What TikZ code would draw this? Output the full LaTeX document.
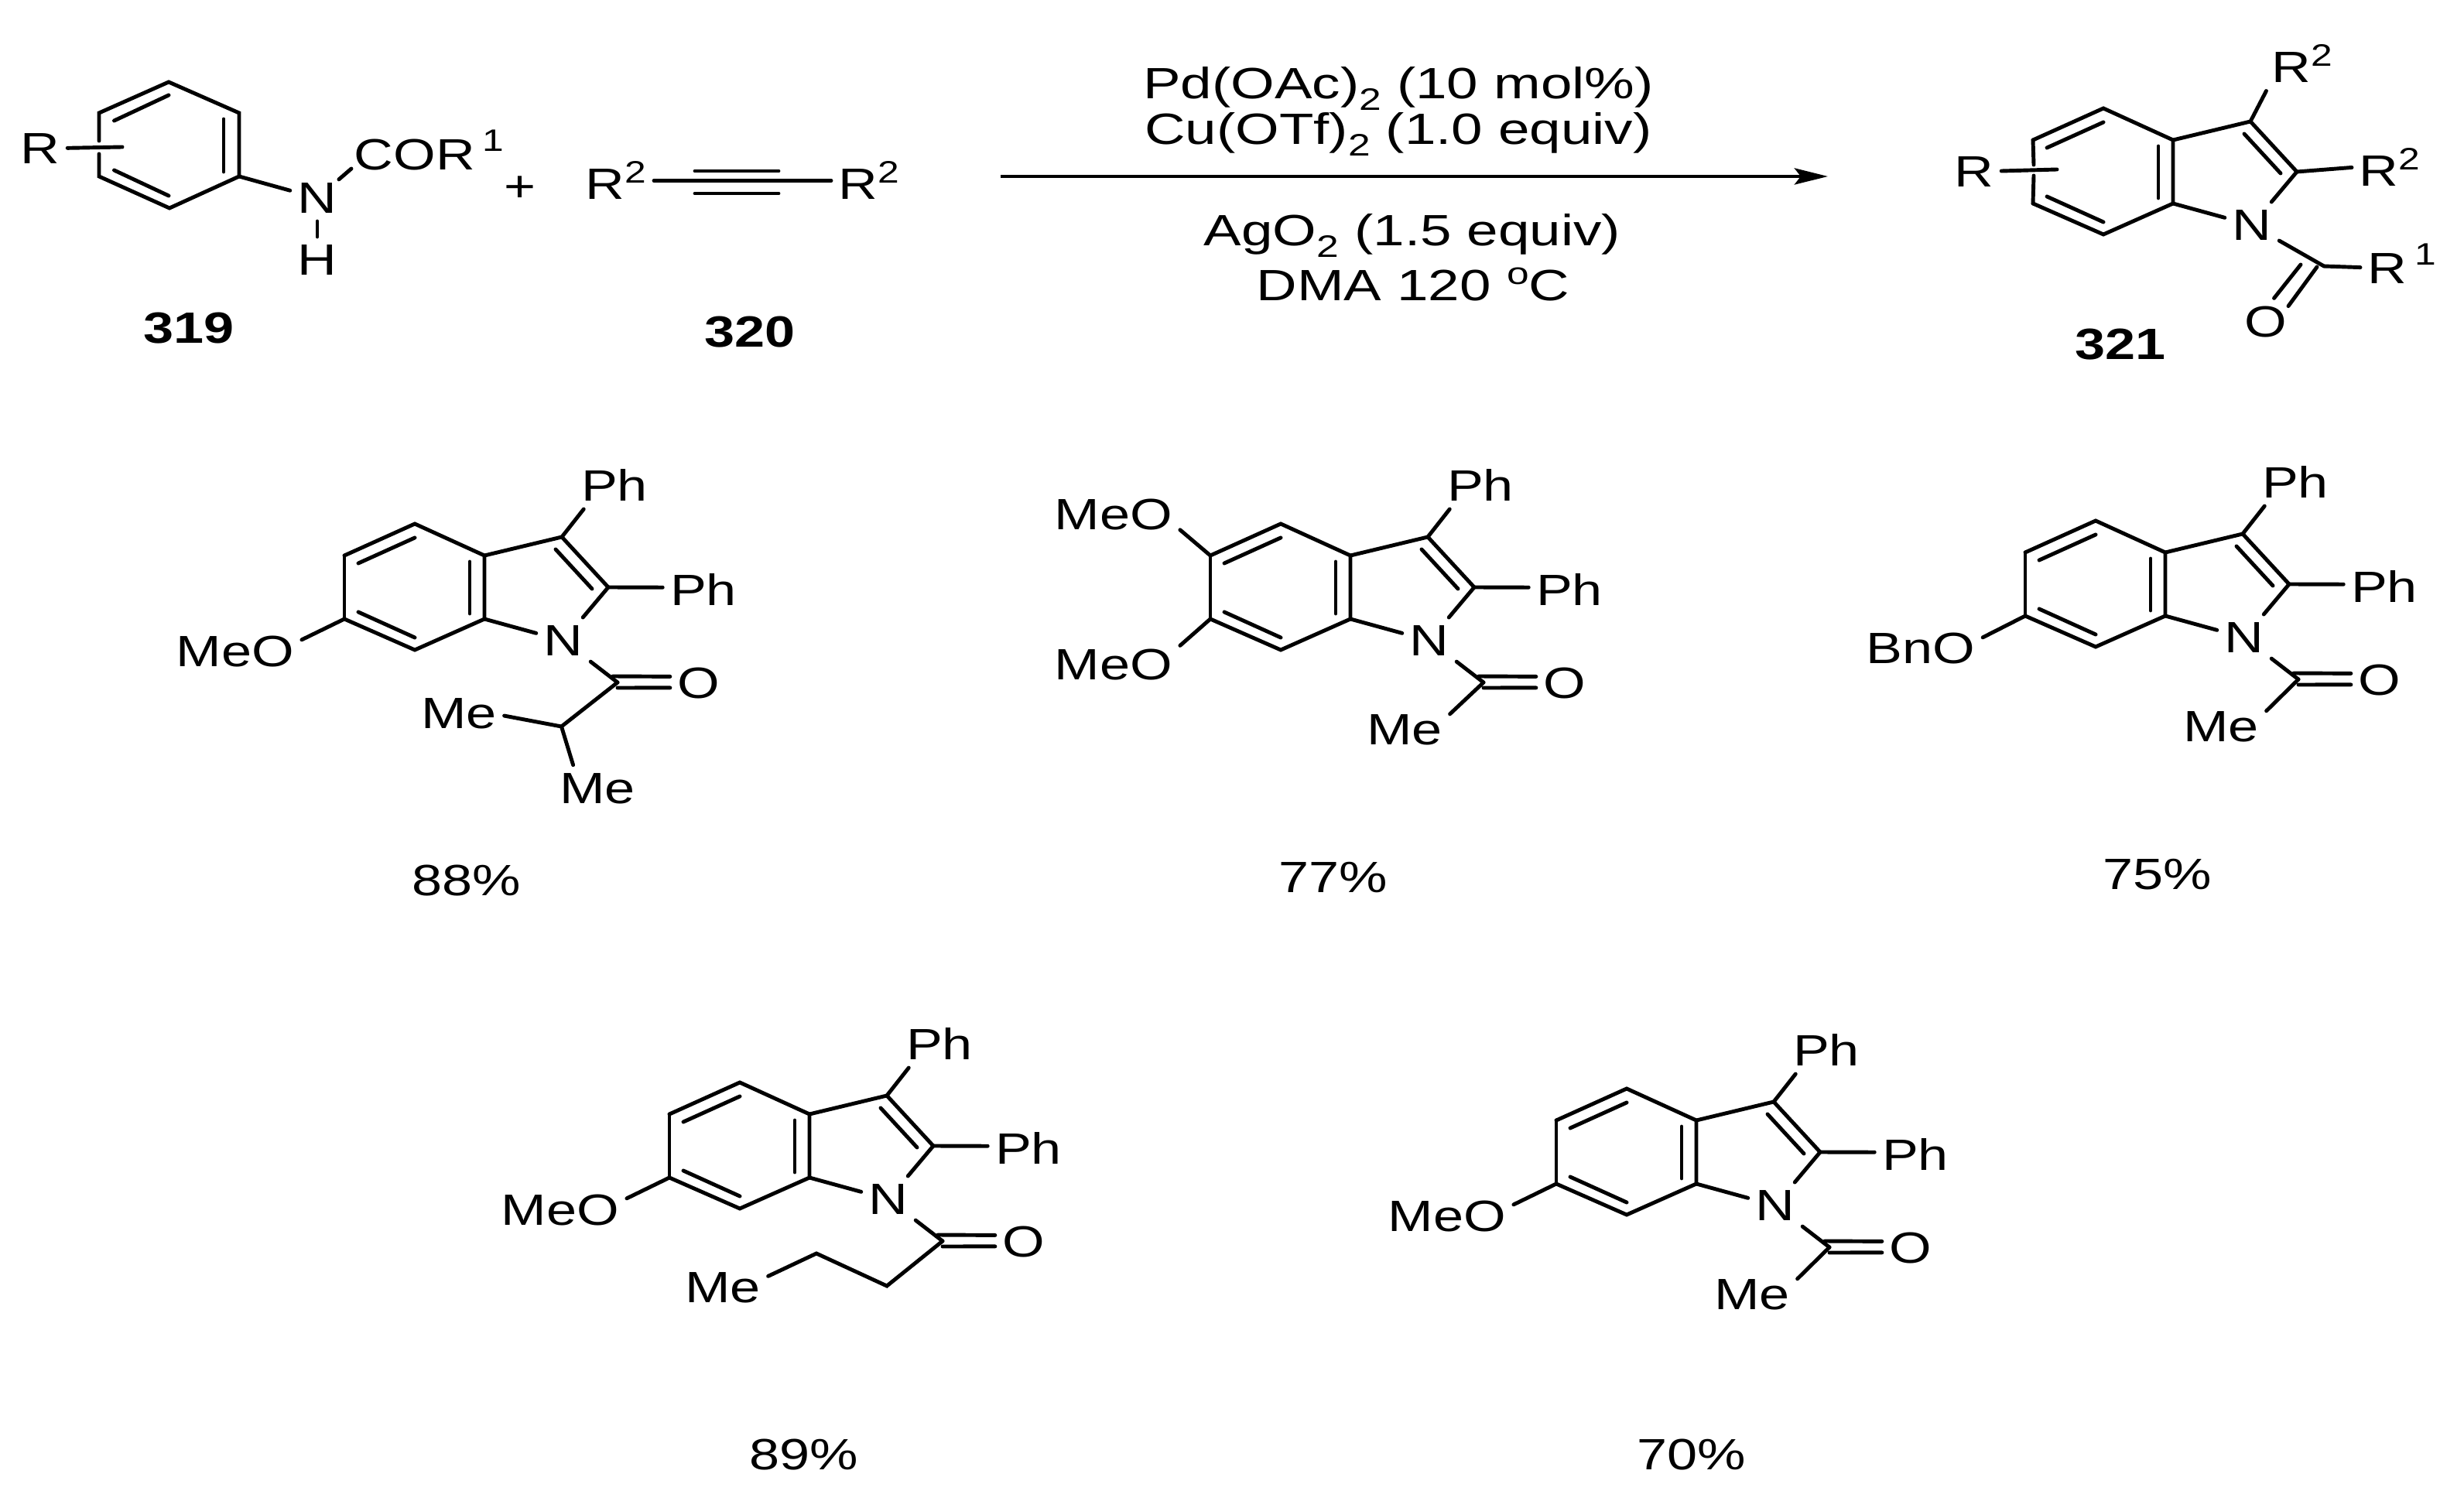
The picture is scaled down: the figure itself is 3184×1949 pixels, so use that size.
\documentclass[tikz,border=0pt]{standalone}
\usepackage{fontspec}
\setmainfont[FakeStretch=1.24]{Liberation Sans}
\newfontfamily\condfont[FakeStretch=1.285]{Liberation Sans}
\usetikzlibrary{arrows.meta}
\newcommand{\upnum}[2][6pt]{\raisebox{#1}{\fontsize{11.4}{12}\selectfont #2}}
\newcommand{\dnnum}[1]{\raisebox{-4pt}{\fontsize{11.4}{12}\selectfont #1}}
\newcommand{\indolecore}{
	\coordinate (-t) at (0,0);
	\coordinate (-ul) at (-91,41);
	\coordinate (-ll) at (-91,123);
	\coordinate (-b) at (0,163);
	\coordinate (-ua) at (90,41);
	\coordinate (-la) at (90,123);
	\coordinate (-c3) at (190,17);
	\coordinate (-c2) at (250,82);
	\coordinate (-d1) at (-73,51);
	\coordinate (-d2) at (0,18);
	\coordinate (-d3) at (-73,114);
	\coordinate (-d4) at (0,147);
	\coordinate (-d5) at (71,49);
	\coordinate (-d6) at (71,116);
	\coordinate (-d7) at (182,33);
	\coordinate (-d8) at (229,84);
	\node[atom] (-n) at (192,151) {N};
	\draw[bond] (-ll) -- (-b) -- (-la) -- (-ua) -- (-t) -- (-ul);
	\draw[bond] (-ua) -- (-c3) -- (-c2);
	\draw[bond] (-c2) -- (-n);
	\draw[bond] (-la) -- (-n);
	\draw[bond] (-d1) -- (-d2);
	\draw[bond] (-d3) -- (-d4);
	\draw[bond] (-d5) -- (-d6);
	\draw[bond] (-d7) -- (-d8);
}
\tikzset{
	atom/.style={font=\fontsize{16.1}{18}\selectfont, inner xsep=2.6pt, inner ysep=2.8pt},
	bond/.style={line width=1.4pt, line cap=round, line join=miter},
	txt/.style={font=\fontsize{16.1}{18}\selectfont, inner sep=0pt, anchor=base},
	cond/.style={font=\condfont\fontsize{16.1}{18}\selectfont, inner sep=0pt, anchor=base},
	num/.style={font=\fontsize{16.1}{18}\selectfont\bfseries, inner sep=0pt, anchor=base},
	indolering/.pic={\indolecore},
	phindole/.pic={
		\indolecore
		\coordinate (-co) at (262,205);
		\coordinate (-x1) at (256,197);
		\coordinate (-x2) at (262,212);
		\node[atom] (-pu) at (258,-50) {Ph};
		\node[atom] (-pr) at (373,85) {Ph};
		\node[atom] (-ox) at (367,206) {O};
		\draw[bond] (-ul) -- (-ll);
		\draw[bond] (-c3) -- (-pu.218);
		\draw[bond] (-c2) -- (-pr.177);
		\draw[bond] (-n) -- (-co);
		\draw[bond] (-x1) -- (-ox.167);
		\draw[bond] (-x2) -- (-ox.189);
	}
}

\begin{document}
\begin{tikzpicture}[x=0.01cm, y=-0.01cm]
	\useasboundingbox (0,0) rectangle (3184,1949);
	% anilide 319
	\coordinate (aa) at (218,106);
	\coordinate (ab) at (309,146);
	\coordinate (ac) at (309,228);
	\coordinate (ad) at (219,269);
	\coordinate (ae) at (128,228);
	\coordinate (af) at (128,146);
	\coordinate (ag1) at (128,182);
	\coordinate (ag2) at (128,199);
	\coordinate (ah) at (158,190);
	\coordinate (ai1) at (147.5,156);
	\coordinate (ai2) at (218,123);
	\coordinate (aj1) at (289,154);
	\coordinate (aj2) at (289,222);
	\coordinate (ak1) at (147.5,220);
	\coordinate (ak2) at (218,253);
	\coordinate (acoin) at (454,218);
	\node[atom] (ar) at (52,192) {R};
	\node[atom] (an) at (410,256) {N};
	\node[atom] (anh) at (410,336) {H};
	\node[atom, anchor=base west] (acor) at (448,220) {COR\,\upnum[7pt]{1}};
	\draw[bond] (ag1) -- (af) -- (aa) -- (ab) -- (ac) -- (ad) -- (ae) -- (ag2);
	\draw[bond] (ar) -- (ah);
	\draw[bond] (ai1) -- (ai2);
	\draw[bond] (aj1) -- (aj2);
	\draw[bond] (ak1) -- (ak2);
	\draw[bond] (ac) -- (an);
	\draw[bond] (an) -- (anh);
	\draw[bond, shorten <=10.5pt] (an.center) -- (acoin);
	\node[num] (n319) at (244,444) {319};
	\node[atom] (plus) at (672,244) {+};
	% alkyne 320
	\node[atom, anchor=base west] (bl) at (747,258) {R\upnum{2}};
	\node[atom, anchor=base west] (br) at (1074,258) {R\upnum{2}};
	\coordinate (bt1) at (898,221);
	\coordinate (bt2) at (1006,221);
	\coordinate (bt3) at (898,250);
	\coordinate (bt4) at (1006,250);
	\draw[bond] (bl.east) -- (br.west);
	\draw[bond] (bt1) -- (bt2);
	\draw[bond] (bt3) -- (bt4);
	\node[num] (n320) at (969,449) {320};
	% conditions
	\node[cond] (cpd) at (1807,128) {Pd(OAc)\dnnum{2} (10 mol\%)};
	\node[cond] (ccu) at (1807,187) {Cu(OTf)\dnnum{2} (1.0 equiv)};
	\node[cond] (cag) at (1825,318) {AgO\dnnum{2} (1.5 equiv)};
	\node[cond] (cdma) at (1826,389) {DMA 120 \upnum{o}C};
	\coordinate (tail) at (1293,228);
	\coordinate (tip) at (2362,228);
	\draw[bond, line cap=butt, -{Stealth[length=0.43cm, width=0.21cm, inset=0.08cm]}] (tail) -- (tip);
	% product 321
	\pic (pr) at (2718,140) {indolering};
	\coordinate (pr-g1) at (2628,213);
	\coordinate (pr-g2) at (2628,227);
	\coordinate (pr-rb) at (2658,219);
	\coordinate (pr-co) at (3003,344);
	\coordinate (pr-x1) at (2973,342);
	\coordinate (pr-x2) at (2994,345);
	\node[atom] (pr-rl) at (2551,222) {R};
	\node[atom, anchor=base west] (pr-rt) at (2926,107) {R\upnum{2}};
	\node[atom, anchor=base west] (pr-rr) at (3039,241) {R\upnum{2}};
	\node[atom, anchor=base west] (pr-ra) at (3050,367) {R\,\upnum[7pt]{1}};
	\node[atom] (pr-ox) at (2928,416) {O};
	\draw[bond] (pr-ul) -- (pr-g1);
	\draw[bond] (pr-g2) -- (pr-ll);
	\draw[bond] (pr-rl) -- (pr-rb);
	\draw[bond] (pr-c3) -- (pr-rt.217);
	\draw[bond] (pr-c2) -- (pr-rr.west);
	\draw[bond] (pr-n) -- (pr-co);
	\draw[bond] (pr-co) -- (pr-ra.185);
	\draw[bond] (pr-x1) -- (pr-ox.71);
	\draw[bond, shorten >=-3.6pt] (pr-x2) -- (pr-ox.40);
	\node[num] (n321) at (2740,465) {321};
	% examples
	\foreach \mol/\tx/\ty in {ma/536/677, mb/1655/677, mc/2708/673, md/956/1399, me/2102/1407}{
		\pic (\mol) at (\tx,\ty) {phindole};
	}
	\node[atom] (ma-ome) at (304,842) {MeO};
	\draw[bond] (ma-ll) -- (ma-ome.10);
	\coordinate (ma-ch) at (725.5,939);
	\node[atom] (ma-mel) at (593,922) {Me};
	\node[atom] (ma-meb) at (772,1019) {Me};
	\draw[bond] (ma-co) -- (ma-ch);
	\draw[bond] (ma-ch) -- (ma-mel.357);
	\draw[bond] (ma-ch) -- (ma-meb.136);
	\node[txt] (ya) at (603,1157) {88\%};
	\node[atom] (mb-omt) at (1439,665) {MeO};
	\node[atom] (mb-omb) at (1439,859) {MeO};
	\node[atom] (mb-me) at (1815,943) {Me};
	\draw[bond] (mb-ul) -- (mb-omt.347);
	\draw[bond] (mb-ll) -- (mb-omb.16);
	\draw[bond] (mb-co) -- (mb-me.19);
	\node[txt] (yb) at (1723,1153) {77\%};
	\node[atom] (mc-obn) at (2482,838) {BnO};
	\node[atom] (mc-me) at (2870,939) {Me};
	\draw[bond] (mc-ll) -- (mc-obn.10);
	\draw[bond] (mc-co) -- (mc-me.19);
	\node[txt] (yc) at (2788,1149) {75\%};
	\node[atom] (md-ome) at (724,1564) {MeO};
	\coordinate (md-c1) at (1146,1662);
	\coordinate (md-c2) at (1055,1620);
	\node[atom] (md-me) at (934,1664) {Me};
	\draw[bond] (md-ll) -- (md-ome.10);
	\draw[bond] (md-co) -- (md-c1) -- (md-c2) -- (md-me.14);
	\node[txt] (yd) at (1039,1899) {89\%};
	\node[atom] (me-ome) at (1870,1572) {MeO};
	\node[atom] (me-me) at (2264,1673) {Me};
	\draw[bond] (me-ll) -- (me-ome.10);
	\draw[bond] (me-co) -- (me-me.19);
	\node[txt] (ye) at (2186,1899) {70\%};
\end{tikzpicture}
\end{document}
